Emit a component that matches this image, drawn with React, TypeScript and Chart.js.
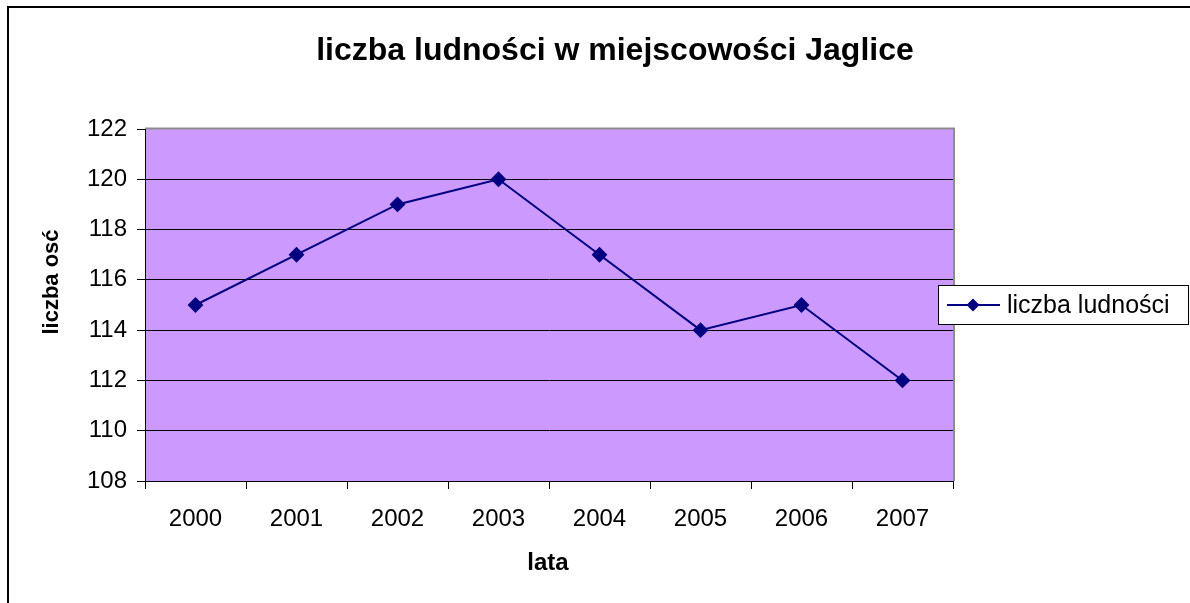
import React, { useEffect, useRef } from "react";
import { Chart, registerables } from "chart.js";

Chart.register(...registerables);

const years = ["2000", "2001", "2002", "2003", "2004", "2005", "2006", "2007"];
const population = [115, 117, 119, 120, 117, 114, 115, 112];
const seriesLabel = "liczba ludności";
const chartTitle = "liczba ludności w miejscowości Jaglice";
const xTitle = "lata";
const yTitle = "liczba osć";
const yMin = 108;
const yMax = 122;
const yStep = 2;

const FONT = '"Liberation Sans", Arial, sans-serif';
const LINE = "#000080";
const PLOT_BG = "#CC99FF";

const decorPlugin = {
  id: "decor",
  beforeDraw(chart: any) {
    const { ctx, chartArea: a, width, height } = chart;
    ctx.save();
    ctx.fillStyle = "#ffffff";
    ctx.fillRect(0, 0, width, height);
    // outer frame
    ctx.strokeStyle = "#000";
    ctx.lineWidth = 2;
    ctx.beginPath();
    ctx.moveTo(8, height + 5);
    ctx.lineTo(8, 7);
    ctx.lineTo(width + 5, 7);
    ctx.stroke();
    // plot background
    ctx.fillStyle = PLOT_BG;
    ctx.fillRect(a.left, a.top, a.right - a.left, a.bottom - a.top);
    // gray border top/right
    ctx.strokeStyle = "#8c8c8c";
    ctx.lineWidth = 2;
    ctx.beginPath();
    ctx.moveTo(a.left, a.top - 0.5);
    ctx.lineTo(a.right + 1, a.top - 0.5);
    ctx.lineTo(a.right + 1, a.bottom);
    ctx.stroke();
    ctx.restore();
  },
  afterDraw(chart: any) {
    const { ctx } = chart;
    ctx.save();
    ctx.fillStyle = "#000";
    // title
    ctx.font = `bold 32px ${FONT}`;
    ctx.textAlign = "center";
    ctx.textBaseline = "alphabetic";
    ctx.fillText(chartTitle, 615, 60);
    // x title
    ctx.font = `bold 24px ${FONT}`;
    ctx.fillText(xTitle, 548, 570);
    // y title
    ctx.save();
    ctx.translate(58, 282);
    ctx.rotate(-Math.PI / 2);
    ctx.font = `bold 22px ${FONT}`;
    ctx.fillText(yTitle, 0, 0);
    ctx.restore();
    // legend
    const lx = 938.5, ly = 285.5, lw = 250, lh = 39;
    ctx.fillStyle = "#fff";
    ctx.fillRect(lx, ly, lw, lh);
    ctx.strokeStyle = "#000";
    ctx.lineWidth = 1;
    ctx.strokeRect(lx, ly, lw, lh);
    const cy = 305;
    ctx.strokeStyle = LINE;
    ctx.lineWidth = 2;
    ctx.beginPath();
    ctx.moveTo(947, cy);
    ctx.lineTo(1000, cy);
    ctx.stroke();
    ctx.fillStyle = LINE;
    ctx.beginPath();
    ctx.moveTo(973, cy - 6.5);
    ctx.lineTo(979.5, cy);
    ctx.lineTo(973, cy + 6.5);
    ctx.lineTo(966.5, cy);
    ctx.closePath();
    ctx.fill();
    ctx.fillStyle = "#000";
    ctx.font = `25px ${FONT}`;
    ctx.textAlign = "left";
    ctx.fillText(seriesLabel, 1007, 313);
    ctx.restore();
  },
};

export default function App() {
  const ref = useRef<HTMLCanvasElement | null>(null);
  useEffect(() => {
    if (!ref.current) return;
    const chart = new Chart(ref.current, {
      type: "line",
      data: {
        labels: years,
        datasets: [
          {
            label: seriesLabel,
            data: population,
            borderColor: LINE,
            backgroundColor: LINE,
            borderWidth: 2,
            pointStyle: "rectRot",
            pointRadius: 6.5,
            pointBackgroundColor: LINE,
            pointBorderColor: LINE,
            tension: 0,
          },
        ],
      },
      options: {
        responsive: false,
        animation: false,
        layout: { padding: { left: 0, top: 129, right: 237, bottom: 0 } },
        plugins: {
          legend: { display: false },
          title: { display: false },
          tooltip: { enabled: false },
        },
        scales: {
          x: {
            type: "category",
            offset: true,
            grid: {
              offset: true,
              drawOnChartArea: false,
              drawTicks: true,
              tickLength: 8,
              color: "#000",
            },
            border: { color: "#000", width: 1 },
            ticks: {
              color: "#000",
              font: { family: FONT, size: 24 },
              padding: 16,
              maxRotation: 0,
            },
            afterFit: (s: any) => {
              s.height = 122;
            },
          },
          y: {
            min: yMin,
            max: yMax,
            grid: {
              color: (c: any) => (c.tick && c.tick.value === yMax ? "rgba(0,0,0,0)" : "#000"),
              tickColor: "#000",
              drawTicks: true,
              tickLength: 8,
            },
            border: { color: "#000", width: 1 },
            ticks: {
              stepSize: yStep,
              color: "#000",
              font: { family: FONT, size: 24 },
              padding: 10,
            },
            afterFit: (s: any) => {
              s.width = 145;
            },
          },
        },
      },
      plugins: [decorPlugin],
    });
    return () => chart.destroy();
  }, []);
  return (
    <div style={{ position: "absolute", left: 0, top: 0, width: 1190, height: 603 }}>
      <canvas ref={ref} width={1190} height={603} style={{ display: "block" }} />
    </div>
  );
}
